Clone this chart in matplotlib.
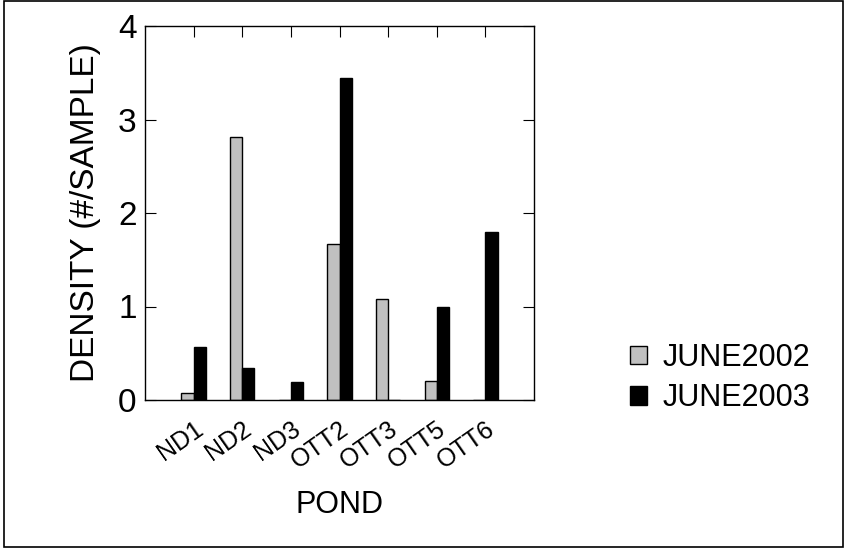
import numpy as np
import matplotlib.pyplot as plt
from matplotlib.patches import Rectangle

plt.rcParams['font.family'] = ['Liberation Sans', 'DejaVu Sans']

ponds = ['ND1', 'ND2', 'ND3', 'OTT2', 'OTT3', 'OTT5', 'OTT6']
june2002 = [0.07, 2.81, 0.0, 1.67, 1.08, 0.2, 0.0]
june2003 = [0.57, 0.34, 0.19, 3.44, 0.0, 1.0, 1.8]

fig = plt.figure(figsize=(8.46, 5.5), dpi=100)
ax = fig.add_axes([145 / 846, 150 / 550, 389 / 846, 374 / 550])

x = np.arange(len(ponds))
w = 0.25
ax.bar(x - w / 2, june2002, w, color='#c0c0c0', edgecolor='black', linewidth=1, label='JUNE2002')
ax.bar(x + w / 2, june2003, w, color='black', edgecolor='black', linewidth=1, label='JUNE2003')

ax.set_xlim(-1, 7)
ax.set_ylim(0, 4)
ax.set_yticks([0, 1, 2, 3, 4])
ax.set_xticks(x)
ax.set_xticklabels(ponds, rotation=35, ha='right', rotation_mode='anchor', fontsize=18)
ax.tick_params(axis='y', direction='in', right=True, left=True, length=8, labelsize=24, pad=6)
ax.tick_params(axis='x', direction='in', top=True, bottom=False, length=8, pad=12)
for s in ax.spines.values():
    s.set_linewidth(1)

ax.set_ylabel('DENSITY (#/SAMPLE)', fontsize=24, labelpad=12)
ax.set_xlabel('POND', fontsize=22, labelpad=12)

ax.legend(loc='center left', bbox_to_anchor=(618 / 846, 1 - 378 / 550), bbox_transform=fig.transFigure,
          frameon=False, fontsize=22, handlelength=0.55, handleheight=0.55, handletextpad=0.5,
          labelspacing=0.35, borderaxespad=0)

fig.patches.append(Rectangle((4 / 846, 3 / 550), 839 / 846, 546 / 550, transform=fig.transFigure,
                             fill=False, edgecolor='black', linewidth=1.2))

fig.savefig('out.png', dpi=100)
